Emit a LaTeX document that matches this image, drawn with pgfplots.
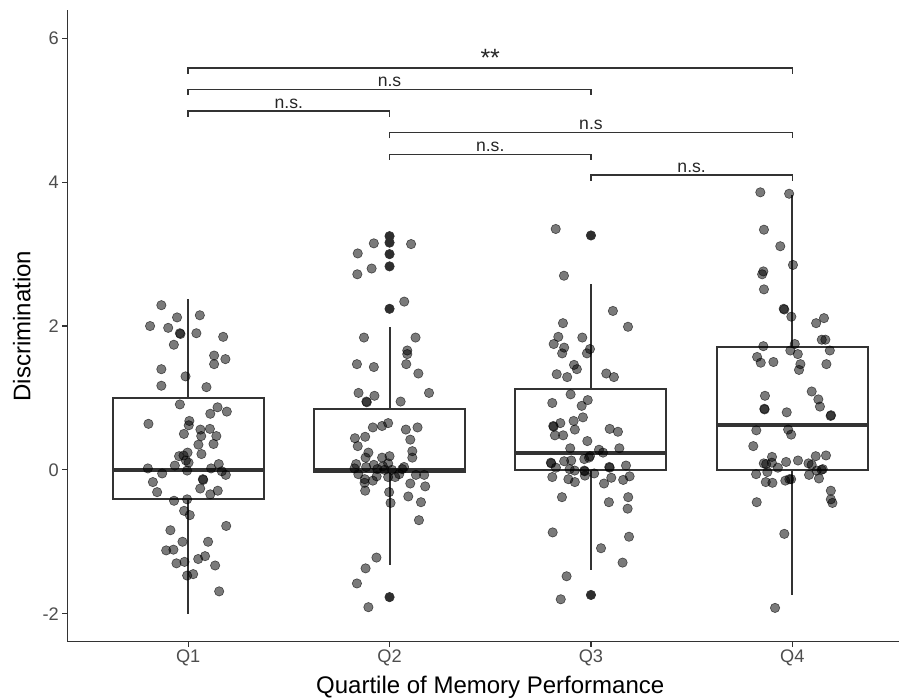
\documentclass[border=0pt]{standalone}
\usepackage{fontspec}
\setmainfont{Liberation Sans}
\usepackage{pgfplots}
\pgfplotsset{compat=1.18}
\usepgfplotslibrary{statistics}
\definecolor{g20}{HTML}{333333}
\definecolor{g30}{HTML}{4D4D4D}
\tikzset{lab/.style={anchor=base, yshift=3bp, font=\fontsize{17.6bp}{20bp}\selectfont, text=black!85}}

\pgfplotstableread{
x y
0.867 2.29
0.945 2.12
1.058 2.15
0.811 2.00
0.901 1.975
0.959 1.90
0.962 1.89
1.041 1.90
1.174 1.85
0.929 1.74
1.129 1.59
1.185 1.54
1.129 1.47
0.867 1.40
0.987 1.30
0.867 1.17
1.091 1.15
0.959 0.91
1.146 0.87
1.110 0.78
1.192 0.81
0.803 0.64
1.006 0.68
1.003 0.62
0.979 0.50
1.061 0.56
1.108 0.57
1.065 0.47
1.140 0.47
1.051 0.35
1.126 0.36
1.066 0.22
0.955 0.19
0.977 0.20
0.997 0.24
0.989 0.13
1.002 0.10
0.934 0.06
0.800 0.02
0.871 -0.05
0.995 -0.01
1.114 0.02
1.152 0.08
1.167 -0.02
1.187 -0.07
1.073 -0.13
1.075 -0.14
0.825 -0.17
0.846 -0.31
1.060 -0.26
1.147 -0.29
1.110 -0.34
0.930 -0.43
0.995 -0.41
0.980 -0.57
1.008 -0.63
1.189 -0.78
0.912 -0.84
0.972 -1.00
1.099 -1.00
0.891 -1.12
0.927 -1.11
1.084 -1.20
1.050 -1.24
0.942 -1.30
0.982 -1.28
1.134 -1.33
0.995 -1.47
1.025 -1.45
1.154 -1.69
}\qone

\pgfplotstableread{
x y
1.922 3.15
2.107 3.14
1.842 3.01
1.911 2.80
1.840 2.72
2.073 2.34
1.873 1.84
2.129 1.84
2.088 1.66
2.088 1.61
1.838 1.47
1.922 1.43
2.083 1.47
2.143 1.34
1.846 1.07
1.925 1.03
2.196 1.07
1.885 0.95
1.887 0.94
2.055 0.95
1.917 0.59
1.963 0.61
1.993 0.65
2.081 0.56
2.139 0.59
1.828 0.44
1.879 0.46
2.103 0.42
1.842 0.33
2.113 0.26
2.113 0.17
1.895 0.24
1.881 0.17
1.963 0.17
2.000 0.19
1.834 0.08
1.826 0.02
1.884 0.04
1.922 0.07
1.939 0.01
1.967 0.05
1.993 0.09
1.975 0.00
2.012 0.00
2.072 0.04
2.063 0.01
1.845 -0.06
1.877 -0.13
1.917 -0.15
1.936 -0.09
1.993 -0.10
2.028 -0.10
2.048 -0.06
1.876 -0.18
1.879 -0.29
2.131 -0.07
2.172 -0.07
2.103 -0.19
2.177 -0.23
1.998 -0.31
2.005 -0.46
2.093 -0.37
2.156 -0.45
2.146 -0.70
1.935 -1.22
1.881 -1.37
1.838 -1.58
1.895 -1.91
}\qtwo

\pgfplotstableread{
x y
2.825 3.35
2.866 2.70
3.109 2.21
3.184 1.99
2.861 2.04
2.838 1.85
2.957 1.84
2.815 1.75
2.867 1.70
2.857 1.62
2.995 1.68
2.980 1.62
2.916 1.46
2.930 1.40
2.830 1.33
2.882 1.29
3.076 1.34
3.114 1.29
2.899 1.05
2.808 0.93
2.984 0.97
2.954 0.89
2.960 0.73
2.914 0.68
2.848 0.65
2.813 0.61
2.815 0.60
2.920 0.56
2.821 0.48
2.862 0.48
3.093 0.57
3.134 0.53
2.982 0.40
2.897 0.30
3.040 0.28
3.060 0.24
3.141 0.30
2.967 0.15
2.995 0.19
2.990 0.17
2.867 0.12
2.902 0.13
2.801 0.10
2.803 0.09
2.826 0.03
2.894 0.01
2.919 -0.01
2.967 -0.01
2.969 -0.02
3.016 -0.05
3.091 0.04
3.093 0.03
3.174 0.06
2.808 -0.10
2.888 -0.13
2.920 -0.17
2.970 -0.08
3.101 -0.11
3.160 -0.14
3.192 -0.09
3.065 -0.19
2.856 -0.38
3.089 -0.45
3.185 -0.38
3.182 -0.54
2.810 -0.87
3.189 -0.93
3.050 -1.09
3.157 -1.29
2.879 -1.48
2.850 -1.80
}\qthree

\pgfplotstableread{
x y
3.841 3.86
3.984 3.84
3.859 3.34
3.940 3.11
4.003 2.85
3.856 2.76
3.850 2.72
3.859 2.51
3.957 2.24
3.960 2.23
3.995 2.13
4.118 2.04
4.157 2.11
4.146 1.81
4.164 1.81
4.186 1.66
3.856 1.72
4.012 1.75
3.990 1.66
4.027 1.61
3.825 1.57
3.843 1.49
3.906 1.50
4.040 1.47
4.033 1.39
4.169 1.47
3.864 1.03
4.096 1.09
4.129 0.98
4.137 0.88
3.861 0.85
3.862 0.84
3.972 0.80
4.192 0.76
4.190 0.75
3.821 0.55
3.979 0.56
3.994 0.49
3.806 0.33
3.899 0.18
3.858 0.09
3.870 0.08
3.898 0.10
3.928 0.03
3.969 0.11
4.028 0.13
4.080 0.09
4.116 0.19
4.167 0.20
4.096 0.07
4.151 0.01
4.145 0.00
4.121 -0.01
3.820 -0.06
3.876 -0.03
3.868 -0.17
3.901 -0.18
3.965 -0.15
3.994 -0.13
3.985 -0.13
4.083 -0.07
4.132 -0.12
4.191 -0.29
4.191 -0.41
4.199 -0.46
3.823 -0.45
3.960 -0.89
3.914 -1.92
}\qfour

\pgfplotstableread{
x y
2 3.25
2 3.16
2 3.00
2 2.83
2 2.24
2 -1.77
3 3.26
3 -1.74
}\outl

\begin{document}
\begin{tikzpicture}
\useasboundingbox (0,0) rectangle (899bp,698bp);
\begin{axis}[
  at={(67.3bp,56.3bp)}, anchor=south west,
  scale only axis, width=845.9bp, height=631.3bp,
  xmin=0.4, xmax=4.6, ymin=-2.39, ymax=6.39,
  axis x line=bottom, axis y line=left,
  axis line style={-, g20, line width=1.1bp},
  tick align=outside, major tick length=5bp,
  tick style={g20, line width=1.1bp},
  xtick={1,2,3,4}, xticklabels={Q1,Q2,Q3,Q4},
  ytick={-2,0,2,4,6},
  /pgf/number format/assume math mode=true,
  ticklabel style={font=\fontsize{18.2bp}{21bp}\selectfont, text=g30},
  xlabel={Quartile of Memory Performance},
  ylabel={Discrimination},
  label style={font=\fontsize{24bp}{28bp}\selectfont, text=black},
  xlabel style={at={([yshift=-51.3bp]axis description cs:0.5,0)}, anchor=base},
  ylabel style={at={([xshift=-36.8bp]axis description cs:0,0.5)}, anchor=base},
  clip=false,
  boxplot/draw direction=y,
  pts/.style={only marks, mark=*, mark size=4.7bp,
    mark options={fill=black, fill opacity=0.52, draw=black, draw opacity=0.6, line width=0.6bp}},
  bx/.style={g20, line width=2bp, solid},
  br/.style={g20, line width=1.3bp},
]
% boxes
\addplot[bx, boxplot prepared={draw position=1, lower whisker=-2.0, lower quartile=-0.40,
  median=0.0, upper quartile=1.00, upper whisker=2.37, box extend=0.75, whisker extend=0,
  every median/.style={line width=4bp}}] coordinates {};
\addplot[bx, boxplot prepared={draw position=2, lower whisker=-1.33, lower quartile=-0.03,
  median=-0.005, upper quartile=0.85, upper whisker=1.99, box extend=0.75, whisker extend=0,
  every median/.style={line width=4bp}}] coordinates {};
\addplot[bx, boxplot prepared={draw position=3, lower whisker=-1.395, lower quartile=0.0,
  median=0.24, upper quartile=1.12, upper whisker=2.59, box extend=0.75, whisker extend=0,
  every median/.style={line width=4bp}}] coordinates {};
\addplot[bx, boxplot prepared={draw position=4, lower whisker=-1.74, lower quartile=0.0,
  median=0.62, upper quartile=1.71, upper whisker=3.82, box extend=0.75, whisker extend=0,
  every median/.style={line width=4bp}}] coordinates {};
% outliers
\addplot[only marks, mark=*, mark size=4.7bp,
  mark options={fill=black!82, draw=black!82, line width=0.6bp}] table {\outl};
% jittered points
\addplot[pts] table {\qone};
\addplot[pts] table {\qtwo};
\addplot[pts] table {\qthree};
\addplot[pts] table {\qfour};
% significance brackets
\addplot[br] coordinates {(1,5.51) (1,5.59) (4,5.59) (4,5.51)};
\addplot[br] coordinates {(1,5.21) (1,5.29) (3,5.29) (3,5.21)};
\addplot[br] coordinates {(1,4.91) (1,4.99) (2,4.99) (2,4.91)};
\addplot[br] coordinates {(2,4.61) (2,4.69) (4,4.69) (4,4.61)};
\addplot[br] coordinates {(2,4.31) (2,4.39) (3,4.39) (3,4.31)};
\addplot[br] coordinates {(3,4.02) (3,4.10) (4,4.10) (4,4.02)};
\node[lab, font=\fontsize{25bp}{28bp}\selectfont, yshift=-2bp] at (axis cs:2.5,5.59) {**};
\node[lab] at (axis cs:2,5.29) {n.s};
\node[lab] at (axis cs:1.5,4.99) {n.s.};
\node[lab] at (axis cs:3,4.69) {n.s};
\node[lab] at (axis cs:2.5,4.39) {n.s.};
\node[lab] at (axis cs:3.5,4.10) {n.s.};
\end{axis}
\end{tikzpicture}
\end{document}
